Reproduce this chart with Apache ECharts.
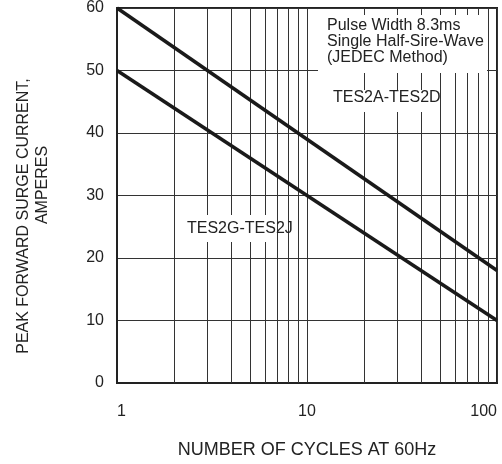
<!DOCTYPE html>
<html>
<head>
<meta charset="utf-8">
<script src="https://cdn.jsdelivr.net/npm/echarts@6/dist/echarts.min.js"></script>
<style>
  html, body { margin: 0; padding: 0; background: #fff; }
  #main { width: 502px; height: 464px; }
</style>
</head>
<body>
<div id="main"></div>
<script>
// 数据
var cycles = [1, 100];
var tes2aCurrent = [60, 18];   // TES2A-TES2D
var tes2gCurrent = [50, 10];   // TES2G-TES2J
var minorCycles = [2, 3, 4, 5, 6, 7, 8, 9, 20, 30, 40, 50, 60, 70, 80, 90];
var yTicks = [0, 10, 20, 30, 40, 50, 60];

(function () {
    var myechart = echarts.init(document.getElementById('main'));
    var font = 'Liberation Sans, Arial, sans-serif';

    function pairs(xs, ys) {
        return xs.map(function (x, i) { return [x, ys[i]]; });
    }

    var option = {
        animation: false,
        grid: {
            left: 117, right: 5, top: 5, bottom: 81,
            show: true,
            borderColor: '#222',
            borderWidth: 2
        },
        xAxis: {
            type: 'log',
            min: 1, max: 100,
            logBase: 10,
            name: 'NUMBER OF CYCLES AT 60Hz',
            nameLocation: 'middle',
            nameGap: 58,
            nameTextStyle: { color: '#222', fontSize: 18, fontFamily: font },
            axisLine: { lineStyle: { color: '#222', width: 2 } },
            axisTick: { show: false },
            axisLabel: {
                color: '#222', fontSize: 16, fontFamily: font, margin: 21,
                alignMinLabel: 'left', alignMaxLabel: 'right'
            },
            splitLine: { show: true, lineStyle: { color: '#333', width: 1 } },
            minorTick: { show: false },
            minorSplitLine: { show: false }
        },
        yAxis: {
            type: 'value',
            min: yTicks[0], max: yTicks[yTicks.length - 1],
            interval: 10,
            axisLine: { show: true, lineStyle: { color: '#222', width: 2 } },
            axisTick: { show: false },
            axisLabel: { color: '#222', fontSize: 16, fontFamily: font, margin: 13 },
            splitLine: { show: true, lineStyle: { color: '#333', width: 1 } }
        },
        series: [
            {
                // 对数副网格线
                type: 'line',
                data: [],
                silent: true,
                markLine: {
                    symbol: 'none',
                    silent: true,
                    label: { show: false },
                    lineStyle: { color: '#333', width: 1, type: 'solid' },
                    data: minorCycles.map(function (v) { return { xAxis: v }; })
                }
            },
            {
                name: 'TES2A-TES2D',
                type: 'line',
                data: pairs(cycles, tes2aCurrent),
                showSymbol: false,
                lineStyle: { color: '#1a1a1a', width: 3.5 },
                z: 5
            },
            {
                name: 'TES2G-TES2J',
                type: 'line',
                data: pairs(cycles, tes2gCurrent),
                showSymbol: false,
                lineStyle: { color: '#1a1a1a', width: 3.5 },
                z: 5
            }
        ],
        graphic: [
            // y轴标题（两行，不居中对齐）
            {
                type: 'text', x: 24, y: 216, rotation: Math.PI / 2,
                style: {
                    text: 'PEAK FORWARD SURGE CURRENT,', fill: '#222',
                    font: '16px ' + font, align: 'center', verticalAlign: 'middle'
                }
            },
            {
                type: 'text', x: 43, y: 185, rotation: Math.PI / 2,
                style: {
                    text: 'AMPERES', fill: '#222',
                    font: '16px ' + font, align: 'center', verticalAlign: 'middle'
                }
            },
            // 说明框
            {
                type: 'rect', z: 10,
                shape: { x: 318, y: 15, width: 169, height: 58 },
                style: { fill: '#fff' }
            },
            {
                type: 'text', z: 11, x: 327, y: 18,
                style: {
                    text: 'Pulse Width 8.3ms\nSingle Half-Sire-Wave\n(JEDEC Method)',
                    fill: '#222', font: '16px ' + font, lineHeight: 16
                }
            },
            // 曲线标签
            {
                type: 'rect', z: 10,
                shape: { x: 330, y: 90, width: 102, height: 22 },
                style: { fill: '#fff' }
            },
            {
                type: 'text', z: 11, x: 333, y: 90,
                style: { text: 'TES2A-TES2D', fill: '#222', font: '16px ' + font }
            },
            {
                type: 'rect', z: 10,
                shape: { x: 184, y: 215, width: 92, height: 27 },
                style: { fill: '#fff' }
            },
            {
                type: 'text', z: 11, x: 187, y: 221,
                style: { text: 'TES2G-TES2J', fill: '#222', font: '16px ' + font }
            }
        ]
    };
    myechart.setOption(option);
})();
</script>
</body>
</html>
